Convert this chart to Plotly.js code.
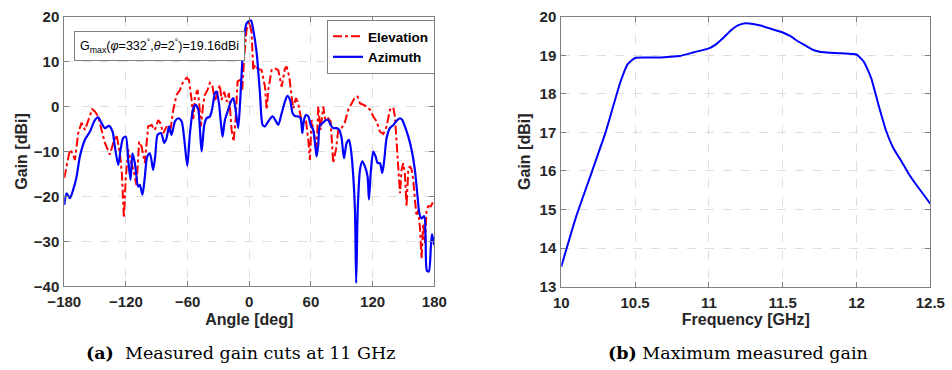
<!DOCTYPE html>
<html>
<head>
<meta charset="utf-8">
<script src="https://cdn.plot.ly/plotly-3.0.1.min.js"></script>
<style>html,body{margin:0;padding:0;background:#fff;}#chart{width:952px;height:370px;}</style>
</head>
<body>
<div id="chart"></div>
<script>
// ---- (a) gain cuts at 11 GHz ----
const elevAngle = [-180,-177.7,-174.5,-171.9,-169.6,-166.4,-163.2,-159.9,-156.7,-152.8,-150.2,-147.0,-143.7,-140.5,-135.6,-132.4,-129.1,-125.9,-123.9,-122.0,-120.1,-117.8,-115.5,-112.3,-109.7,-107.1,-104.8,-101.6,-98.4,-95.1,-91.9,-88.6,-86.9,-83.6,-80.4,-77.2,-73.9,-70.7,-67.5,-64.2,-61.0,-58.7,-56.1,-54.5,-52.9,-50.3,-48.7,-47.0,-44.8,-43.2,-40.6,-38.3,-36.0,-33.4,-30.8,-28.6,-27.0,-24.4,-22.1,-19.8,-17.2,-15.3,-13.3,-11.4,-9.1,-6.9,-4.9,-2.7,0.0,2.3,3.9,5.6,7.8,12.0,15.3,16.9,18.5,21.7,25.0,28.2,31.5,34.7,36.3,38.9,41.2,42.8,45.4,47.7,49.9,52.5,55.1,57.4,59.0,60.6,62.2,65.5,67.1,69.4,72.0,73.9,76.8,79.1,81.7,84.3,86.6,89.8,93.0,96.3,99.6,102.8,105.4,107.7,110.9,114.2,117.4,120.6,123.9,127.1,130.4,133.6,136.8,140.1,141.7,143.3,144.9,146.6,148.2,149.8,151.4,153.0,154.7,156.3,157.9,159.5,161.1,162.8,164.4,166.0,167.6,169.2,170.9,172.5,174.1,176.7,178.9,180];
const elevGain = [-15.9,-13.3,-9.6,-10.4,-11.9,-5.9,-3.6,-5.2,-3.0,-0.6,-1.1,-2.2,-5.2,-8.1,-10.7,-8.1,-6.3,-10.4,-15,-24.8,-15.6,-9.6,-11.9,-14.5,-17.5,-7.8,-8.9,-12.6,-4.4,-4.1,-5.2,-3.0,-3.5,-5.9,-4.4,-5.9,-0.7,2.6,3.7,5.6,6.4,5.9,1.5,-3.0,2.2,3.7,0.7,-4.4,0.7,2.6,3.7,5.3,4.8,1.1,3.3,4.8,1.5,3.3,1.1,3.0,-5.2,-7.8,-3.0,5.6,5.9,3.7,11.1,17.0,18.9,16.3,8.1,9.3,8.5,8.1,4.4,-0.7,3.7,8.1,8.5,8.1,4.4,8.5,8.9,6.7,2.2,-0.4,1.9,0.7,-2.2,-3.7,-3.0,-7.4,-11.9,-3.0,-5.2,-9.6,0.0,-5.2,0.0,-3.0,-2.6,-3.3,-12.6,-9.6,-5.2,-4.8,-3.5,-0.7,0.7,2.1,2.2,0.7,0.4,0.0,-0.7,-2.2,-3.3,-5.6,-6.1,-4.4,-0.7,-0.2,-2.2,-8.1,-14.0,-19.3,-14.0,-12.6,-15.0,-22.2,-14.0,-13.3,-14.0,-16.3,-20.7,-24.4,-23.0,-26.7,-33.8,-26.0,-30.4,-23.0,-22.2,-22.2,-21.1,-20.7];

const aziAngle = [-180,-177.7,-174.5,-171.3,-168.0,-164.8,-159.9,-155.1,-150.2,-147.0,-143.7,-140.5,-136.3,-133.0,-130.8,-127.5,-125.2,-122.7,-120.1,-117.8,-115.5,-113.6,-111.3,-108.1,-106.5,-103.9,-101.6,-99.3,-96.7,-93.5,-91.5,-89.2,-85.9,-82.7,-80.4,-78.1,-75.6,-72.3,-69.1,-65.8,-63.2,-60.3,-57.7,-54.5,-52.2,-49.6,-48.0,-46.4,-43.8,-41.5,-38.3,-36.0,-33.4,-31.8,-29.5,-27.6,-26.0,-23.7,-20.5,-17.9,-15.6,-13.3,-10.8,-8.8,-6.9,-4.9,-2.7,-0.4,1.7,3.9,7.2,10.4,13.0,15.3,18.5,22.7,26.0,28.2,31.5,34.7,37.0,39.6,42.2,44.4,47.7,49.9,51.6,53.2,55.1,57.4,59.7,62.2,63.9,65.5,67.1,68.7,71.3,74.6,76.8,79.1,81.7,84.9,87.5,89.8,92.1,94.7,97.0,98.9,101.2,102.8,104.0,105.5,107.7,109.9,112.5,115.1,116.4,118.4,120.6,122.9,124.9,127.1,129.4,131.3,133.6,136.8,140.1,143.3,146.6,148.8,151.4,154.7,157.9,161.1,163.7,165.5,167.7,170.2,171.5,172.8,174.7,176.7,177.8,180];
const aziGain = [-21.9,-19.3,-20.4,-18.5,-15.6,-11.1,-7.4,-5.6,-3.0,-2.4,-3.7,-4.8,-4.3,-5.6,-8.9,-13.0,-9.6,-7.0,-6.7,-11.9,-16.3,-10.4,-12.6,-17.8,-17.4,-19.6,-15.6,-11.1,-10.4,-14.1,-11.0,-6.3,-5.9,-8.1,-7.0,-4.4,-6.3,-3.3,-2.6,-3.3,-7.4,-13.2,-5.9,-0.4,0.4,-0.7,-5.2,-10.0,-4.1,-2.6,-2.2,-0.4,3.0,3.3,0.7,-3.7,-6.7,-3.0,-0.7,1.1,1.9,-0.7,-4.8,1.5,9.6,15.6,18.5,19.0,19.16,17.0,11.9,3.0,-4.1,-4.4,-3.3,-2.2,-3.3,-4.1,-1.5,1.1,2.4,1.5,-1.5,-2.1,-2.2,-2.6,-5.9,-3.0,-1.9,-2.2,-4.1,-5.2,-8.1,-11.1,-8.5,-4.1,-3.7,-3.0,-3.0,-4.1,-4.8,-4.8,-5.2,-7.0,-11.5,-8.1,-7.4,-9.6,-15.6,-23.0,-39.3,-23.0,-14.1,-12.2,-13.3,-15.6,-20.7,-14.1,-10.0,-11.1,-12.6,-12.6,-14.8,-11.9,-7.0,-4.8,-4.1,-3.2,-2.6,-3.0,-4.4,-6.7,-9.6,-14.1,-20.0,-23.8,-24.9,-24.4,-28.9,-36.5,-36.7,-31.0,-28.4,-30.9];

const angleTicks = [-180,-120,-60,0,60,120,180];
const gainTicksA = [-40,-30,-20,-10,0,10,20];

// ---- (b) maximum measured gain ----
const freq = [10.0,10.1,10.2,10.25,10.3,10.4,10.45,10.5,10.6,10.7,10.8,10.9,11.0,11.05,11.1,11.15,11.2,11.25,11.3,11.35,11.4,11.5,11.55,11.6,11.65,11.7,11.75,11.8,11.9,12.0,12.05,12.1,12.15,12.2,12.25,12.3,12.35,12.4,12.45,12.5];
const maxGain = [13.52,14.81,15.9,16.45,17.0,18.3,18.77,18.93,18.94,18.95,18.98,19.08,19.18,19.29,19.46,19.65,19.78,19.83,19.81,19.77,19.71,19.59,19.50,19.37,19.26,19.15,19.09,19.07,19.05,19.02,18.83,18.4,17.7,17.05,16.59,16.28,15.95,15.67,15.41,15.15];
const freqTicks = [10,10.5,11,11.5,12,12.5];
const freqTickText = ['10','10.5','11','11.5','12','12.5'];
const gainTicksB = [13,14,15,16,17,18,19,20];

const tickFont = {family:'Liberation Sans, Arial, sans-serif', size:15, color:'#262626', weight:'bold'};
const titleFont = {family:'Liberation Sans, Arial, sans-serif', size:16, color:'#262626', weight:'bold'};

function axisBase(extra){
  return Object.assign({
    showline:true, linecolor:'#808080', linewidth:1, mirror:'ticks',
    ticks:'inside', ticklen:5, tickcolor:'#808080',
    showgrid:true, gridcolor:'#dedede', griddash:'dash', gridwidth:1,
    zeroline:false, tickfont:tickFont, fixedrange:true
  }, extra);
}

const traces = [
  {x:elevAngle, y:elevGain, type:'scatter', mode:'lines', name:'Elevation',
   line:{color:'#ff0000', width:2, dash:'dashdot'}, xaxis:'x', yaxis:'y'},
  {x:aziAngle, y:aziGain, type:'scatter', mode:'lines', name:'Azimuth',
   line:{color:'#0000ff', width:2.2, shape:'spline', smoothing:0.7}, xaxis:'x', yaxis:'y'},
  {x:freq, y:maxGain, type:'scatter', mode:'lines', name:'Max gain', showlegend:false,
   line:{color:'#0000ff', width:2, shape:'spline', smoothing:0.5}, xaxis:'x2', yaxis:'y2'}
];

const layout = {
  width:952, height:370,
  margin:{l:0, r:0, t:0, b:0},
  paper_bgcolor:'#ffffff', plot_bgcolor:'#ffffff',
  showlegend:true,
  legend:{x:0.3435, y:1-20/370, xanchor:'left', yanchor:'top',
          bgcolor:'#ffffff', bordercolor:'#808080', borderwidth:1,
          font:{family:'Liberation Sans, Arial, sans-serif', size:13.5, color:'#000', weight:'bold'},
          tracegroupgap:0, itemwidth:30},
  xaxis: axisBase({domain:[0.0675,0.4562], range:[-180,180], tickvals:angleTicks, anchor:'y',
    ticklabelstandoff:2,
    title:{text:'Angle [deg]', font:titleFont, standoff:4}}),
  yaxis: axisBase({domain:[0.2262,0.9549], range:[-40,20], tickvals:gainTicksA, anchor:'x',
    ticklabelstandoff:1,
    title:{text:'Gain [dBi]', font:titleFont, standoff:2}}),
  xaxis2: axisBase({domain:[0.5896,0.9772], range:[10,12.5], tickvals:freqTicks, ticktext:freqTickText, anchor:'y2',
    ticklabelstandoff:2,
    title:{text:'Frequency [GHz]', font:titleFont, standoff:4}}),
  yaxis2: axisBase({domain:[0.2251,0.9549], range:[13,20], tickvals:gainTicksB, anchor:'x2',
    ticklabelstandoff:1,
    title:{text:'Gain [dBi]', font:titleFont, standoff:4}}),
  annotations:[
    {xref:'paper', yref:'paper', x:0.0778, y:1-31/370, xanchor:'left', yanchor:'top', showarrow:false,
     text:'G<sub>max</sub>(<i>φ</i>=332<sup>°</sup>,<i>θ</i>=2<sup>°</sup>)=19.16dBi',
     font:{family:'Liberation Sans, Arial, sans-serif', size:12.5, color:'#000'},
     bgcolor:'#ffffff', bordercolor:'#808080', borderwidth:1, borderpad:5},
    {xref:'paper', yref:'paper', x:0.2532, y:1-353/370, xanchor:'center', yanchor:'middle', showarrow:false,
     text:'<b>(a)</b>  Measured gain cuts at 11 GHz',
     font:{family:'DejaVu Serif, Liberation Serif, serif', size:17.5, color:'#000'}},
    {xref:'paper', yref:'paper', x:0.7747, y:1-353/370, xanchor:'center', yanchor:'middle', showarrow:false,
     text:'<b>(b)</b> Maximum measured gain',
     font:{family:'DejaVu Serif, Liberation Serif, serif', size:17.5, color:'#000'}}
  ]
};

Plotly.newPlot('chart', traces, layout, {staticPlot:true, displayModeBar:false});
</script>
</body>
</html>
